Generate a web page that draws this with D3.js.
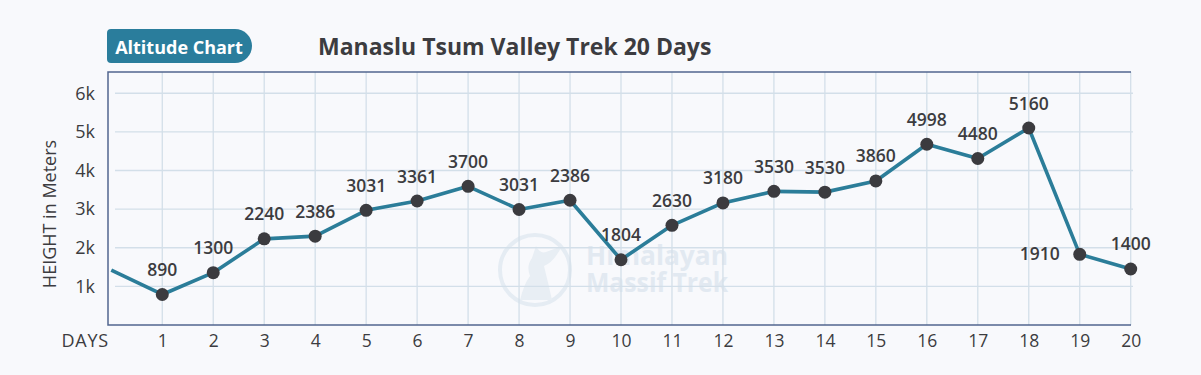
<!DOCTYPE html>
<html>
<head>
<meta charset="utf-8">
<script src="https://cdn.jsdelivr.net/npm/d3@7"></script>
<style>
  html, body { margin: 0; padding: 0; background: #f8f9fc; }
  svg { display: block; }
</style>
</head>
<body>
<svg id="chart" width="1201" height="375"></svg>
<script>
// ---- data ----
const days = [0, 1, 2, 3, 4, 5, 6, 7, 8, 9, 10, 11, 12, 13, 14, 15, 16, 17, 18, 19, 20];
const plottedHeights = [1420, 790, 1355, 2230, 2300, 2970, 3210, 3590, 2990, 3230, 1690, 2580, 3160, 3460, 3440, 3730, 4680, 4310, 5100, 1830, 1450];
const heightLabels = ["", "890", "1300", "2240", "2386", "3031", "3361", "3700", "3031", "2386", "1804", "2630", "3180", "3530", "3530", "3860", "4998", "4480", "5160", "1910", "1400"];
const yTicks = [1000, 2000, 3000, 4000, 5000, 6000];
const yTickLabels = ["1k", "2k", "3k", "4k", "5k", "6k"];
const xTicks = [1, 2, 3, 4, 5, 6, 7, 8, 9, 10, 11, 12, 13, 14, 15, 16, 17, 18, 19, 20];
const badgeText = "Altitude Chart";
const titleText = "Manaslu Tsum Valley Trek 20 Days";
const yAxisTitle = "HEIGHT in Meters";
const xAxisTitle = "DAYS";
const watermarkLines = ["Himalayan", "Massif Trek"];

(function () {
// ---- layout ----
const svg = d3.select("#chart");
const pLeft = 108, pRight = 1131, pTop = 72, pBottom = 325;
const font = "'Open Sans', 'Noto Sans', sans-serif";
const textColor = "#3c3c40";
const teal = "#2b7d99";

const x = d3.scaleLinear().domain([0, 20]).range([111.3, 1130.7]);
const y = d3.scaleLinear().domain([0, 6550]).range([pBottom, pTop]);

svg.append("rect").attr("width", 1201).attr("height", 375).attr("fill", "#f8f9fc");

// Badge
const badge = svg.append("g");
badge.append("path")
  .attr("d", "M107,33 Q107,29 111,29 L235,29 A17,17 0 0 1 235,63 L111,63 Q107,63 107,59 Z")
  .attr("fill", "#2a7d9c");
badge.append("text")
  .attr("x", 179).attr("y", 53.5)
  .attr("text-anchor", "middle")
  .attr("font-family", font).attr("font-weight", 700).attr("font-size", 18)
  .attr("fill", "#ffffff")
  .text(badgeText);

svg.append("text")
  .attr("x", 318).attr("y", 54.5)
  .attr("font-family", font).attr("font-weight", 700).attr("font-size", 23)
  .attr("fill", textColor)
  .text(titleText);

// Watermark
const wm = svg.append("g");
wm.append("circle").attr("cx", 535).attr("cy", 270).attr("r", 35)
  .attr("fill", "none").attr("stroke", "#e5ecf3").attr("stroke-width", 4);
wm.append("path")
  .attr("d", "M520,300 Q524,284 530,276 Q526,266 532,258 L536,246 Q540,254 546,252 L562,246 Q554,262 544,266 Q548,282 552,300 Z")
  .attr("fill", "#e8eef4");
wm.selectAll("text.wm").data(watermarkLines).join("text")
  .attr("class", "wm")
  .attr("x", 586).attr("y", (d, i) => 265 + i * 27)
  .attr("textLength", 142).attr("lengthAdjust", "spacingAndGlyphs")
  .attr("font-family", font).attr("font-weight", 700).attr("font-size", 26)
  .attr("fill", "#e2e9f1").text(d => d);

// Grid
const grid = svg.append("g");
grid.selectAll("line.h").data(yTicks).join("line")
  .attr("class", "h")
  .attr("x1", 115).attr("x2", 1133)
  .attr("y1", d => y(d)).attr("y2", d => y(d))
  .attr("stroke", "#d3dfe9").attr("stroke-width", 1.3);
grid.selectAll("line.v").data(xTicks).join("line")
  .attr("class", "v")
  .attr("x1", d => x(d)).attr("x2", d => x(d))
  .attr("y1", pTop).attr("y2", pBottom)
  .attr("stroke", "#d3dfe9").attr("stroke-width", 1.3);

// Border (left, top, bottom)
svg.append("path")
  .attr("d", `M${pRight},${pTop} L${pLeft},${pTop} L${pLeft},${pBottom} L${pRight},${pBottom}`)
  .attr("fill", "none").attr("stroke", "#51668f").attr("stroke-width", 1.5);

// Axes text
const yAxis = d3.axisLeft(y).tickValues(yTicks).tickFormat((d, i) => yTickLabels[i]).tickSize(0).tickPadding(13);
const gy = svg.append("g").attr("transform", `translate(${pLeft},0)`).call(yAxis);
gy.select(".domain").remove();
gy.selectAll("text").attr("font-family", font).attr("font-size", 18).attr("fill", textColor);

const xAxis = d3.axisBottom(x).tickValues(xTicks).tickFormat(d3.format("d")).tickSize(0).tickPadding(9.5);
const gx = svg.append("g").attr("transform", `translate(0,${pBottom})`).call(xAxis);
gx.select(".domain").remove();
gx.selectAll("text").attr("font-family", font).attr("font-size", 17.5).attr("fill", textColor);

svg.append("text")
  .attr("x", 109).attr("y", 347).attr("text-anchor", "end")
  .attr("font-family", font).attr("font-size", 18).attr("letter-spacing", 0.8).attr("fill", textColor)
  .text(xAxisTitle);

svg.append("text")
  .attr("transform", "translate(56,214) rotate(-90)")
  .attr("text-anchor", "middle")
  .attr("font-family", font).attr("font-size", 18).attr("fill", textColor)
  .text(yAxisTitle);

// Line
const pts = days.map((d, i) => ({ day: d, v: plottedHeights[i], label: heightLabels[i] }));
const lineGen = d3.line().x(d => x(d.day)).y(d => y(d.v));
svg.append("path")
  .datum(pts)
  .attr("d", lineGen)
  .attr("fill", "none")
  .attr("stroke", teal).attr("stroke-width", 3.6)
  .attr("stroke-linejoin", "round");

const dotPts = pts.filter(d => d.day > 0);
svg.selectAll("circle.dot").data(dotPts).join("circle")
  .attr("class", "dot")
  .attr("cx", d => x(d.day)).attr("cy", d => y(d.v)).attr("r", 6.5)
  .attr("fill", "#3b3b3f");

svg.selectAll("text.lbl").data(dotPts).join("text")
  .attr("class", "lbl")
  .attr("x", d => d.day === 19 ? x(d.day) - 20 : x(d.day))
  .attr("y", d => d.day === 19 ? y(d.v) + 5.5 : y(d.v) - 18.5)
  .attr("text-anchor", d => d.day === 19 ? "end" : "middle")
  .attr("font-family", font).attr("font-weight", 600).attr("font-size", 17.5)
  .attr("fill", textColor)
  .text(d => d.label);
})();
</script>
</body>
</html>
